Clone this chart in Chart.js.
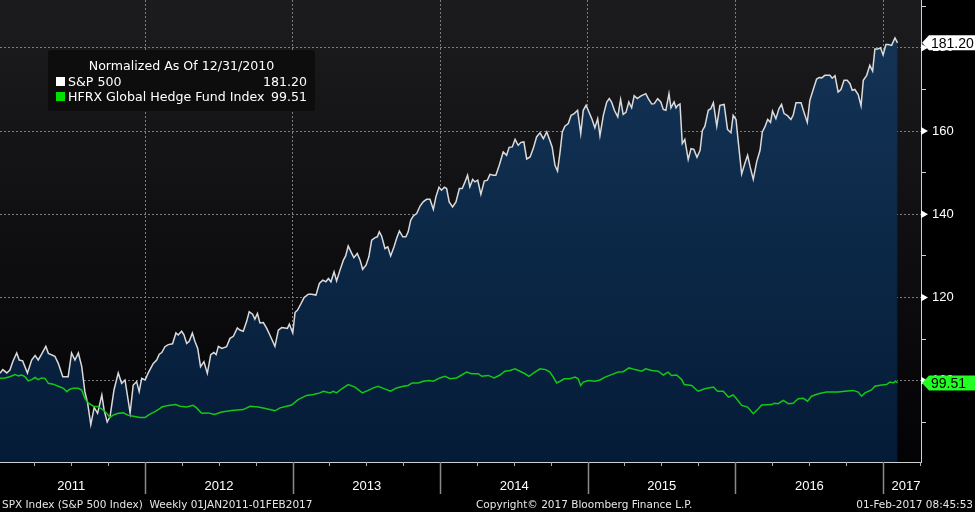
<!DOCTYPE html>
<html>
<head>
<meta charset="utf-8">
<script src="https://cdn.jsdelivr.net/npm/chart.js@4.4.1/dist/chart.umd.min.js"></script>
<style>
html,body{margin:0;padding:0;background:#000;}
#wrap{position:relative;width:975px;height:512px;overflow:hidden;font-family:"DejaVu Sans",sans-serif;}
#c{position:absolute;left:0;top:0;}
#legend{position:absolute;left:48px;top:50px;width:267px;height:61px;background:#0d0d0d;border-radius:3px;color:#fff;font-size:12.6px;line-height:15px;}
#legend .t{position:absolute;left:0;top:8px;width:100%;text-align:center;}
#legend .sw{position:absolute;left:8px;width:9px;height:9px;}
#legend .n{position:absolute;left:20px;}
#legend .v{position:absolute;right:8px;}
.foot{position:absolute;top:497px;font-size:10.5px;line-height:14px;color:#e6e6e6;white-space:pre;}
</style>
</head>
<body>
<div id="wrap">
<canvas id="c" width="975" height="512"></canvas>
<div id="legend">
  <div class="t">Normalized As Of 12/31/2010</div>
  <div class="sw" style="top:27px;background:#ffffff"></div>
  <div class="n" style="top:24px">S&amp;P 500</div>
  <div class="v" style="top:24px">181.20</div>
  <div class="sw" style="top:42px;background:#00e000"></div>
  <div class="n" style="top:39px">HFRX Global Hedge Fund Index</div>
  <div class="v" style="top:39px">99.51</div>
</div>
<div class="foot" style="left:2px">SPX Index (S&amp;P 500 Index)  Weekly 01JAN2011-01FEB2017</div>
<div class="foot" style="left:476px">Copyright© 2017 Bloomberg Finance L.P.</div>
<div class="foot" style="right:2px">01-Feb-2017 08:45:53</div>
</div>
<script>
// x values: weeks since the first weekly close (07-Jan-2011)
const spWeeks = [0,1,2.4,3.5,4.5,5.9,6.8,8,9.7,11.2,12.4,13.5,14.7,16.2,17.1,19.4,20.6,22.2,24.1,25.3,26.5,27.7,28.9,30,31,32.1,33.3,34.5,36,36.8,37.9,38.9,40.3,41.8,43,44.2,46,47.1,48.3,49.2,50.1,51.3,52.4,54.2,55.4,56.3,57.2,58.3,59.5,61,62.2,63,64.2,65,66,66.9,68,68.9,69.9,70.9,72.1,73.3,74.5,75.6,76.4,77.2,78.4,80.1,81.3,82.5,83.9,84.8,86,87.2,88.1,89.3,90.1,91,91.9,93.1,94.3,95.4,97.2,98.4,99.6,100.7,101.6,102.3,103.5,104.3,105.2,106.3,107.5,109,110.2,111.7,112.9,114.1,115.2,116.1,117,118.1,119,120.2,121.4,122.2,123.1,124.3,125.1,126.3,127.3,128.2,129.4,130.4,131.4,132.6,133.4,134.1,134.9,136.1,137.1,138.1,139.3,140.2,141.2,142.4,143.5,144.3,145.2,146.1,147.3,148.5,149.6,150.8,152,153.2,154.1,155.2,156.1,157.1,157.9,158.8,160,161.2,162.4,163.4,164.4,165.3,166.1,167.1,167.9,168.9,170,171.2,172.3,173.2,174.4,175.3,176.5,177.9,179.1,180,181.1,182.1,183.2,184.2,185.2,186.2,187.4,188.5,189.7,190.9,192.1,193.3,194.2,195.2,196.2,197.1,198,198.8,199.7,200.9,201.9,203,204.2,205.3,206.2,207.2,208.2,209.2,210.3,211.3,212.1,213.3,214.5,215.4,216.2,217.2,218.4,219.4,220.3,221.3,222.3,223.3,224.2,225.3,226.5,228.3,229.2,230.4,231.3,232.5,233.6,234.5,235.4,236.5,237.2,238.3,239,239.6,240.4,241.2,242.1,243.3,244.3,245.3,246.4,247.5,248.3,249.2,250.4,251.3,252.2,253.4,254.5,256,257.2,258.4,259.2,260.2,261,262.2,263.4,264.3,265.2,266.3,267.5,268.7,269.5,270.4,271.4,272.4,273.1,274.3,275.4,276.3,277.2,278.4,279.6,280.4,281.4,283.2,284,285.4,286.3,287.5,288.7,289.6,290.5,291.6,293.4,294.2,295.2,296.3,297.3,298.4,299.5,300.5,301.3,302.2,303.4,304.4,305.2,306.4,307.5,308.5,309.3,310.3,311.3,312.2,313.2,314,315.2,316.4,317.3];
const spValues = [101.8,102.7,101.9,102.6,104.6,106.7,105,104.8,101.9,105,106.1,105,106.4,108.3,106.6,105.9,104.2,101,101,106.7,105,106.7,103.4,97.4,94.6,89.5,93.6,92.2,96.6,93,90.1,91.4,97.8,101.9,99.4,100.2,92.3,99,99.8,97.4,100.6,100.2,101.9,104.2,105,106.4,106.8,108.2,108.7,108.9,111.5,111,111.9,111.1,109,109.5,111.5,109.5,107.8,103.4,104.6,101.8,106.3,106.8,106.3,108.3,107.8,108.2,110.2,110.7,112.7,112.2,111.9,114.3,116.6,116,114.8,116.2,113.9,114,112.6,111,108.3,112.2,112.8,112.7,112.6,113.6,111.5,116.4,117,118.4,120,120.8,120.8,120.6,123.4,124.2,123.8,124.6,123.8,126.2,124,126.6,129,130,132.4,130.7,129.6,130.6,129,126.8,127.8,129.8,133.8,134.4,134.6,135.8,134.8,131.8,132.2,130,132.2,134.2,136,134.6,134.6,135.8,138.6,139.6,140.2,142,143,143.6,143.6,141.2,144.2,146.5,145.8,146.5,146.2,143,141.8,143,146.2,146.2,147.8,149.4,146.6,148.4,147.8,148.2,144.8,148,148.2,149.6,149.4,149.4,151.8,155,154.2,156.1,156.2,158,156.6,157.3,157.4,153.3,153.8,155.8,158.6,159.6,158.2,159.8,158.1,156.2,151.8,150.4,155,159.8,161.2,161.8,163.8,164.2,165,159.4,165,166.2,164.6,163,160.8,163,158.9,163.8,167,167.8,167,165,163.4,167.6,164,164.5,167,165.6,168.5,167.8,168.4,169,167.8,166.5,166.6,167.8,167,165.2,165,169,165.6,167,165.6,166.2,166.5,157,158,153.2,155.8,155.6,153.7,155.4,160.1,161.2,165,165.4,166.8,161.2,166.2,166.4,160.4,159.6,163.8,162.8,157.4,149.7,152.4,154.2,151.4,148.4,152.6,155.4,159.8,161,162.8,162.1,164.8,163,165.4,166.4,164.2,163.7,162.8,163.8,166.8,166.8,165,162.1,167.4,170,172.5,172.9,172.8,173.4,173.4,172.7,173.3,169.4,170,172.2,172.2,171.4,169.8,170,168.8,166.1,172.2,173.4,175.8,174.4,179.7,179.7,180,178.3,180.8,180.8,180.6,182.4,181.2];

const hfWeeks = [0,1.8,3.5,5.3,6.5,7.7,8.8,10,11.2,12.4,13.5,14.7,15.9,17.1,18.8,20.6,22.4,23.6,24.7,25.9,27.7,28.9,30,31.2,33,34.7,36.5,37.7,38.9,40.1,41.8,43.6,45.4,47.1,49.5,51.3,53,54.8,56.6,57.2,59.5,62.1,63.6,66,68.3,69.5,71.3,73.6,75.8,78.4,81.9,86,88.4,91.3,94.3,97.2,99,101.4,103.1,105.4,108.4,110.8,113.1,114.3,116.7,117.8,119,120.8,123.1,125.5,128.1,130.2,132,133.7,135.5,138.1,140.2,142.6,144.3,145.7,147.9,149.6,151.7,153.2,155.5,157.3,159.1,161.4,163.2,165,166.7,169.1,170.3,172.6,174.7,176.8,178.5,180.3,182.1,183.8,185.6,187,189.1,190.9,192.9,194.4,195.6,196.8,198,199.5,201.5,203.3,204.4,205.3,206.2,208,210.3,212.1,213.9,216.2,218.6,220.3,222.4,224.5,226.8,228.3,230.4,232.7,234.5,236.2,237.4,239.2,241,241.9,244.5,246.8,249.2,252.2,253.7,255.7,257.5,259.2,260.4,262.2,264.3,266.3,268.1,269.3,272.8,273.7,275.1,276.9,278.7,280.4,282.2,284,285.5,286.9,289.3,292.2,296.3,298.7,301.6,303.4,304.6,305.8,308.1,309.3,311.7,313.4,314.6,315.8,316.6,317.3];
const hfValues = [100.6,100.7,101,101.5,101.2,101.4,101,100,100.3,100.8,100.3,100.7,100.6,99.4,99.2,98.7,98.2,97.4,98,98.2,98.2,97.8,95.8,94.7,93.9,93.8,93,92.2,91.2,91.8,92.2,92.3,91.7,91.5,91.2,91.2,92,92.6,93.4,93.7,94.1,94.3,93.9,93.7,94.1,93.5,92.2,92.3,91.9,92.5,92.9,93.1,93.9,93.7,93.3,92.8,93.5,93.9,94.2,95.5,96.5,96.7,97.1,97.5,97.1,97.5,97.1,98.1,99.1,98.5,97.1,97.7,98.3,98.7,98.2,97.5,98.3,98.7,98.9,99.5,99.5,99.9,100.1,99.9,100.7,101.1,100.5,100.7,101.4,102.1,101.7,101.7,101.1,101.3,100.7,101.4,102.3,102.5,102.9,102.3,101.7,101.1,102.1,102.9,102.7,102.1,100.9,99.5,99.9,100.5,100.5,100.9,100.5,98.9,99.7,100.1,99.9,100.2,100.9,101.5,102.1,102.2,103.1,102.7,102.3,102.9,102.5,102.3,101.4,102.1,101.3,101.4,100.3,99.1,98.9,97.5,98.1,98.5,97.5,97.5,96.1,96.6,95.7,94.1,93.7,92.1,93.3,94.2,94.3,94.6,94.5,95.3,94.5,94.6,95.7,95.8,95.1,96.3,96.9,97.3,97.3,97.5,97.7,97.3,96.3,97.1,97.8,98.7,99,99.1,99.7,99.5,99.9,99.51];

const seriesNames = ['S&P 500','HFRX Global Hedge Fund Index'];
const yearLabels = ['2011','2012','2013','2014','2015','2016','2017'];
const yTickValues = [90,100,110,120,130,140,150,160,170,180,190];
const yMin = 80.5, yMax = 191.5;

const START = Date.UTC(2011,0,7), WEEK = 7*864e5;
const wk = (y,m,d) => (Date.UTC(y,m,d) - START) / WEEK;
const xMax = 325.6;
const yearStarts = yearLabels.map(y => wk(+y,0,1));
const yearBounds = yearStarts.slice(1);
const yearMids = yearStarts.map((s,i) => i < yearStarts.length-1 ? (s + yearStarts[i+1]) / 2 : s + 8);
const quarterTicks = [];
yearLabels.forEach(y => [3,6,9].forEach(m => { const w = wk(+y,m,1); if (w > 0 && w < xMax) quarterTicks.push(w); }));

const FONT = '"Liberation Sans", Arial, sans-serif';
const LINE = '#7d7d7d';

const framePlugin = {
  id: 'frame',
  beforeDraw(chart) {
    const {ctx, chartArea: a} = chart;
    ctx.save();
    ctx.fillStyle = '#000';
    ctx.fillRect(0, 0, chart.width, chart.height);
    const g = ctx.createLinearGradient(0, a.top, 0, a.bottom);
    g.addColorStop(0, '#1c1c1e');
    g.addColorStop(1, '#030305');
    ctx.fillStyle = g;
    ctx.fillRect(a.left, a.top, a.right - a.left, a.bottom - a.top);
    ctx.restore();
  },
  afterDraw(chart) {
    const {ctx, chartArea: a} = chart;
    const xs = chart.scales.x, ys = chart.scales.y;
    ctx.save();
    ctx.strokeStyle = '#8a8a8a';
    ctx.lineWidth = 1.5;
    yearBounds.forEach(w => {
      const px = Math.round(xs.getPixelForValue(w)) + 0.5;
      ctx.beginPath(); ctx.moveTo(px, a.bottom); ctx.lineTo(px, a.bottom + 32); ctx.stroke();
    });
    ctx.lineWidth = 1;
    ctx.strokeStyle = '#b0b0b0';
    quarterTicks.forEach(w => {
      const px = Math.round(xs.getPixelForValue(w)) + 0.5;
      ctx.beginPath(); ctx.moveTo(px, a.bottom); ctx.lineTo(px, a.bottom + 4); ctx.stroke();
    });
    ctx.fillStyle = '#ffffff';
    yTickValues.filter(v => v % 20 === 0).forEach(v => {
      const py = ys.getPixelForValue(v);
      ctx.beginPath(); ctx.moveTo(a.right, py - 4); ctx.lineTo(a.right + 7, py); ctx.lineTo(a.right, py + 4); ctx.closePath(); ctx.fill();
    });
    const tags = [
      {v: spValues[spValues.length-1], bg: '#ffffff', txt: '181.20'},
      {v: hfValues[hfValues.length-1], bg: '#22ff22', txt: '99.51'}
    ];
    tags.forEach(t => {
      const py = ys.getPixelForValue(t.v);
      const x0 = a.right + 1, h = 7.5;
      ctx.fillStyle = t.bg;
      ctx.beginPath();
      ctx.moveTo(x0, py); ctx.lineTo(x0 + 7, py - h); ctx.lineTo(chart.width, py - h);
      ctx.lineTo(chart.width, py + h); ctx.lineTo(x0 + 7, py + h); ctx.closePath(); ctx.fill();
      ctx.fillStyle = '#000';
      ctx.font = '14px ' + FONT;
      ctx.textBaseline = 'middle';
      ctx.textAlign = 'left';
      ctx.fillText(t.txt, x0 + 9, py + 1);
    });
    ctx.restore();
  }
};

const fillGrad = (c) => {
  const a = c.chart.chartArea;
  if (!a) return '#0c2746';
  const g = c.chart.ctx.createLinearGradient(0, a.top, 0, a.bottom);
  g.addColorStop(0, '#153659');
  g.addColorStop(1, '#041b37');
  return g;
};

const noPad = s => { s.paddingTop = 0; s.paddingBottom = 0; s.paddingLeft = 0; s.paddingRight = 0; };

new Chart(document.getElementById('c'), {
  type: 'line',
  data: {
    datasets: [
      {
        label: seriesNames[1],
        data: hfWeeks.map((w,i) => ({x: w, y: hfValues[i]})),
        borderColor: '#14c814', borderWidth: 1.5, pointRadius: 0, fill: false, tension: 0, order: 0
      },
      {
        label: seriesNames[0],
        data: spWeeks.map((w,i) => ({x: w, y: spValues[i]})),
        borderColor: '#dadada', borderWidth: 1.5, pointRadius: 0, fill: 'start',
        backgroundColor: fillGrad, tension: 0, order: 1
      }
    ]
  },
  options: {
    responsive: false,
    animation: false,
    devicePixelRatio: 1,
    layout: {padding: 0},
    plugins: {legend: {display: false}, tooltip: {enabled: false}},
    scales: {
      x: {
        type: 'linear', min: 0, max: xMax, position: 'bottom', weight: 0, z: 1,
        afterBuildTicks: s => { s.ticks = yearBounds.map(v => ({value: v})); },
        afterFit: s => { s.height = 0; noPad(s); },
        ticks: {display: false},
        grid: {color: LINE, lineWidth: 1, drawTicks: false},
        border: {display: true, color: '#cfcfcf', width: 1, dash: [2, 2]}
      },
      xl: {
        type: 'linear', min: 0, max: xMax, position: 'bottom', weight: 1,
        afterBuildTicks: s => { s.ticks = yearMids.map(v => ({value: v})); },
        afterFit: s => { s.height = 50; noPad(s); },
        grid: {display: false, drawTicks: false},
        border: {display: false},
        ticks: {color: '#ffffff', font: {size: 13, family: FONT}, padding: 17, autoSkip: false, maxRotation: 0,
          callback: (v, i) => yearLabels[i]}
      },
      y: {
        type: 'linear', position: 'right', min: yMin, max: yMax, z: 1,
        afterBuildTicks: s => { s.ticks = yTickValues.map(v => ({value: v})); },
        afterFit: s => { s.width = 54; noPad(s); },
        grid: {
          color: c => (c.tick && c.tick.value % 20 === 0) ? LINE : 'rgba(0,0,0,0)',
          tickColor: c => (c.tick && c.tick.value % 20 === 0) ? 'rgba(0,0,0,0)' : '#d0d0d0',
          tickLength: 5, drawTicks: true, lineWidth: 1
        },
        border: {display: true, color: '#cfcfcf', width: 1, dash: [2, 2]},
        ticks: {color: '#ffffff', font: {size: 13, family: FONT}, padding: 6, autoSkip: false,
          callback: v => (v % 20 === 0 ? String(v) : '')}
      }
    }
  },
  plugins: [framePlugin]
});
</script>
</body>
</html>
